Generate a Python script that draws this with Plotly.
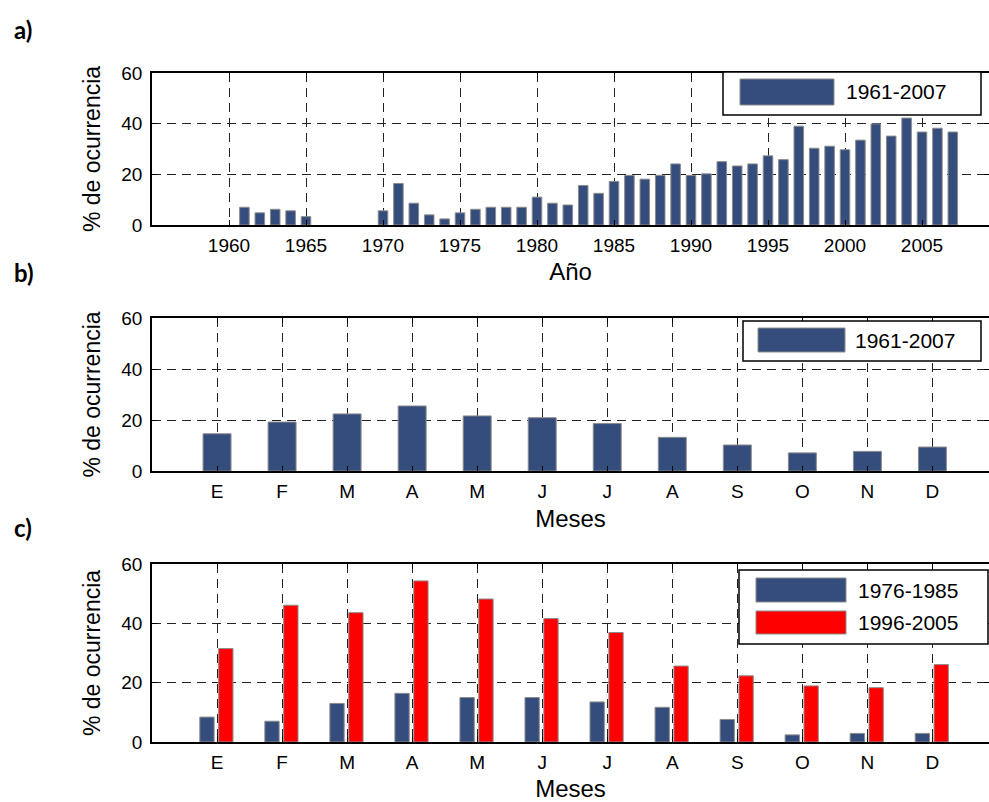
import plotly.graph_objects as go

# ---------------- data ----------------
years = list(range(1961, 2008))
pct_year = [7.0, 4.8, 6.2, 5.6, 3.3, 0, 0, 0, 0, 5.6,
            16.4, 8.6, 4.0, 2.4, 4.8, 6.2, 7.0, 7.0, 7.0, 11.0,
            8.6, 7.9, 15.6, 12.5, 17.2, 19.6, 18.1, 19.6, 24.1, 19.6,
            20.2, 25.0, 23.3, 24.1, 27.3, 25.8, 39.0, 30.3, 31.1, 29.7,
            33.5, 39.9, 35.1, 42.2, 36.7, 38.2, 36.7]
year_ticks = [1960, 1965, 1970, 1975, 1980, 1985, 1990, 1995, 2000, 2005]

months = ["E", "F", "M", "A", "M", "J", "J", "A", "S", "O", "N", "D"]
month_pos = list(range(1, 13))
pct_month_all = [14.6, 19.2, 22.4, 25.5, 21.6, 20.9, 18.6, 13.2, 10.2, 7.1, 7.7, 9.4]
pct_month_7685 = [8.4, 7.0, 13.0, 16.4, 15.0, 15.0, 13.5, 11.7, 7.6, 2.4, 2.9, 2.9]
pct_month_9605 = [31.5, 46.1, 43.6, 54.3, 48.2, 41.6, 36.9, 25.6, 22.3, 18.9, 18.3, 26.1]

name_all = "1961-2007"
name_a = "1976-1985"
name_b = "1996-2005"
ytitle = "% de ocurrencia"

# ---------------- style ----------------
W, H = 989, 802
BLUE = "#354D7D"
RED = "#FF0000"
EDGE = "#8C8C8C"
FONT = "Liberation Sans, Arial, sans-serif"

def py(px):  # pixel y -> paper y
    return 1 - px / H

def pxx(px):  # pixel x -> paper x
    return (px - 152) / (W - 152)

fig = go.Figure()

fig.add_trace(go.Bar(x=years, y=[v if v > 0 else None for v in pct_year], width=0.62,
                     marker=dict(color=BLUE, line=dict(color=EDGE, width=1)),
                     name=name_all, xaxis="x", yaxis="y", showlegend=False))
fig.add_trace(go.Bar(x=month_pos, y=pct_month_all, width=0.43, marker=dict(color=BLUE, line=dict(color=EDGE, width=1)),
                     name=name_all, xaxis="x2", yaxis="y2", showlegend=False))
fig.add_trace(go.Bar(x=month_pos, y=pct_month_7685, width=0.22, offset=-0.265,
                     marker=dict(color=BLUE, line=dict(color=EDGE, width=1)),
                     name=name_a, xaxis="x3", yaxis="y3", showlegend=False))
fig.add_trace(go.Bar(x=month_pos, y=pct_month_9605, width=0.22, offset=0.025,
                     marker=dict(color=RED, line=dict(color=EDGE, width=1)),
                     name=name_b, xaxis="x3", yaxis="y3", showlegend=False))

grid = dict(showgrid=True, gridcolor="#222222", gridwidth=1, griddash="9px,6px")
axline = dict(showline=True, linecolor="black", linewidth=1.5, mirror="allticks",
              ticks="inside", ticklen=5, tickcolor="black", zeroline=False,
              tickfont=dict(family=FONT, size=19, color="black"))

panels = [(73, 225), (318, 471), (564, 742)]

def yax(i):
    top, bot = panels[i]
    return dict(domain=[py(bot), py(top)], range=[0, 60], tickvals=[0, 20, 40, 60],
                title=dict(text=ytitle, font=dict(family=FONT, size=23, color="black"), standoff=14),
                ticklabelstandoff=4, anchor=["x", "x2", "x3"][i], **grid, **axline)

xa = dict(domain=[0, 1], range=[1955, 2009.35], tickvals=year_ticks, anchor="y",
          title=dict(text="Año", font=dict(family=FONT, size=24, color="black"), standoff=9),
          ticklabelstandoff=2, **grid, **axline)
xm = lambda anchor: dict(domain=[0, 1], range=[0, 12.87], tickvals=month_pos, ticktext=months, anchor=anchor,
                         title=dict(text="Meses", font=dict(family=FONT, size=24, color="black"), standoff=10),
                         ticklabelstandoff=2, **grid, **axline)

fig.update_layout(
    width=W, height=H, margin=dict(l=152, r=0, t=0, b=0, autoexpand=False),
    paper_bgcolor="white", plot_bgcolor="white", barmode="overlay",
    xaxis=xa, yaxis=yax(0), xaxis2=xm("y2"), yaxis2=yax(1), xaxis3=xm("y3"), yaxis3=yax(2),
    showlegend=False,
)

# panel letters
for lab, ycen in [("a)", 29), ("b)", 273), ("c)", 527)]:
    fig.add_annotation(text="<b>%s</b>" % lab, xref="paper", yref="paper", x=pxx(12), y=py(ycen),
                       xanchor="left", yanchor="middle", showarrow=False,
                       font=dict(family="Lato, Open Sans, sans-serif", size=24, color="black"))

# legend boxes drawn as layout decorations
def legend(box, entries):
    x0, y0, x1, y1 = box
    fig.add_shape(type="rect", xref="paper", yref="paper", x0=pxx(x0), x1=pxx(x1), y0=py(y1), y1=py(y0),
                  line=dict(color="black", width=1.5), fillcolor="white", layer="above")
    for (sx0, sy0, sx1, sy1, color, text, tx) in entries:
        fig.add_shape(type="rect", xref="paper", yref="paper", x0=pxx(sx0), x1=pxx(sx1), y0=py(sy1), y1=py(sy0),
                      line=dict(color=EDGE, width=1), fillcolor=color, layer="above")
        fig.add_annotation(text=text, xref="paper", yref="paper", x=pxx(tx), y=py((sy0 + sy1) / 2),
                           xanchor="left", yanchor="middle", showarrow=False,
                           font=dict(family=FONT, size=21, color="black"))

legend((723, 72, 981, 115), [(740, 79, 834, 105, BLUE, name_all, 844)])
legend((743, 321, 981, 361), [(758, 328, 845, 352, BLUE, name_all, 853)])
legend((739, 570, 988, 644), [(756, 578, 846, 602, BLUE, name_a, 856),
                              (756, 611, 846, 634, RED, name_b, 856)])

fig.write_html("out.html", config={"displayModeBar": False},
               post_script="document.body.style.margin='0';document.body.style.overflow='hidden';")
